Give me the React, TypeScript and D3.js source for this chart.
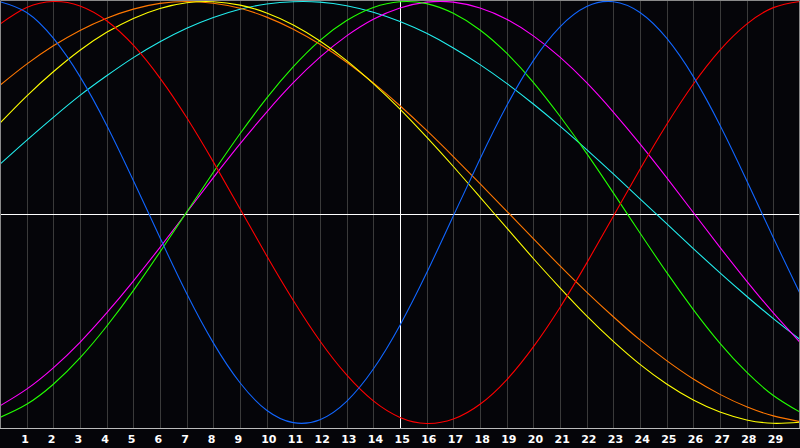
import React, { useEffect, useRef } from 'react';
import * as d3 from 'd3';

const days = d3.range(0, 31);
const tickDays = d3.range(1, 30);

// values in percent at each day line
const physical = [99.9, 94.8, 82.6, 64.4, 41.4, 15.2, -12.0, -38.4, -61.8, -80.7, -93.7, -99.6, -98.2, -89.5, -74.2, -53.4, -28.6, -1.6, 25.4, 50.6, 72.0, 88.0, 97.6, 99.9, 94.8, 82.6, 64.4, 41.4, 15.2, -12.0, -38.4];
const emotional = [89.3, 97.1, 100.0, 97.9, 90.9, 79.3, 63.7, 45.0, 24.0, 1.8, -20.5, -41.7, -60.9, -77.0, -89.3, -97.1, -100.0, -97.9, -90.9, -79.3, -63.7, -45.0, -24.0, -1.8, 20.5, 41.7, 60.9, 77.0, 89.3, 97.1, 100.0];
const intellectual = [-97.1, -90.9, -81.4, -68.9, -53.9, -37.0, -18.7, 0.2, 19.1, 37.3, 54.2, 69.1, 81.6, 91.0, 97.2, 99.9, 99.0, 94.4, 86.5, 75.5, 61.7, 45.6, 28.0, 9.3, -9.7, -28.4, -46.0, -62.0, -75.7, -86.7, -94.6];
const intuitive = [-91.6, -83.7, -73.6, -61.5, -47.6, -32.5, -16.5, 0, 16.5, 32.5, 47.6, 61.5, 73.6, 83.7, 91.6, 96.9, 99.7, 99.7, 96.9, 91.6, 83.7, 73.6, 61.5, 47.6, 32.5, 16.5, 0, -16.5, -32.5, -47.6, -61.5];
const aesthetic = [42.4, 55.2, 66.7, 76.9, 85.4, 92.0, 96.7, 99.4, 99.9, 98.3, 94.6, 88.9, 81.3, 72.0, 61.1, 49.0, 35.7, 21.8, 7.3, -7.3, -21.8, -35.7, -49.0, -61.1, -72.0, -81.3, -88.9, -94.6, -98.3, -99.9, -99.4];
const awareness = [60.3, 70.3, 79.0, 86.3, 92.1, 96.4, 99.1, 100.0, 99.2, 96.8, 92.6, 86.9, 79.7, 71.2, 61.4, 50.6, 38.9, 26.5, 13.7, 0.7, -12.4, -25.3, -37.7, -49.4, -60.4, -70.2, -78.9, -86.2, -92.1, -96.4, -99.1];
const spiritual = [22.9, 34.2, 45.1, 55.5, 64.8, 73.4, 80.9, 87.3, 92.4, 96.3, 98.8, 99.9, 99.7, 98.0, 94.9, 90.5, 84.9, 78.0, 70.1, 61.2, 51.4, 40.9, 29.8, 18.3, 6.5, -5.3, -17.1, -28.6, -39.7, -50.3, -60.2];

const series = [
  { name: 'Spiritual', values: spiritual, color: '#22eeee' },
  { name: 'Intuitive', values: intuitive, color: '#ff00ff' },
  { name: 'Intellectual', values: intellectual, color: '#22ff00' },
  { name: 'Awareness', values: awareness, color: '#ff7700' },
  { name: 'Aesthetic', values: aesthetic, color: '#ffff00' },
  { name: 'Emotional', values: emotional, color: '#ff0000' },
  { name: 'Physical', values: physical, color: '#1166ff' },
];

const W = 800;
const H = 448;
const plotBottom = 428;
const zeroY = 214;

export default function App() {
  const svgRef = useRef<SVGSVGElement>(null);

  useEffect(() => {
    if (!svgRef.current) return;
    const svg = d3.select(svgRef.current);
    svg.selectAll('*').remove();

    const x = d3.scaleLinear().domain([0, 30]).range([0, W]);
    const y = d3.scaleLinear().domain([-100, 100]).range([423.5, 1.5]);

    svg.append('rect')
      .attr('width', W)
      .attr('height', H)
      .attr('fill', '#050509');

    // day grid
    svg.append('g')
      .selectAll('line')
      .data(tickDays)
      .enter()
      .append('line')
      .attr('x1', d => Math.round(x(d)) + 0.5)
      .attr('x2', d => Math.round(x(d)) + 0.5)
      .attr('y1', 0)
      .attr('y2', plotBottom)
      .attr('stroke', d => (d === 15 ? '#ffffff' : '#3a3a3a'))
      .attr('stroke-width', 1);

    // zero line
    svg.append('line')
      .attr('x1', 0)
      .attr('x2', W)
      .attr('y1', zeroY + 0.5)
      .attr('y2', zeroY + 0.5)
      .attr('stroke', '#ffffff');

    const line = d3.line<number>()
      .x((_, i) => x(days[i]))
      .y(v => y(v))
      .curve(d3.curveNatural);

    svg.append('g')
      .selectAll('path')
      .data(series)
      .enter()
      .append('path')
      .attr('d', s => line(s.values))
      .attr('fill', 'none')
      .attr('stroke', s => s.color)
      .attr('stroke-width', 1.1);

    // frame
    svg.append('path')
      .attr('d', `M0.5,${plotBottom + 0.5}V0.5H${W - 0.5}V${plotBottom + 0.5}`)
      .attr('fill', 'none')
      .attr('stroke', '#8a8a8a');
    svg.append('line')
      .attr('x1', 0)
      .attr('x2', W)
      .attr('y1', plotBottom + 0.5)
      .attr('y2', plotBottom + 0.5)
      .attr('stroke', '#bbbbbb');

    // day labels
    svg.append('g')
      .selectAll('text')
      .data(tickDays)
      .enter()
      .append('text')
      .attr('x', d => x(d) - 5.5)
      .attr('y', 443)
      .attr('fill', '#ffffff')
      .attr('font-family', '"DejaVu Sans", sans-serif')
      .attr('font-weight', 'bold')
      .attr('font-size', '11px')
      .text(d => d);
  }, []);

  return (
    <svg
      ref={svgRef}
      width={W}
      height={H}
      style={{ position: 'absolute', left: 0, top: 0, display: 'block' }}
    />
  );
}
